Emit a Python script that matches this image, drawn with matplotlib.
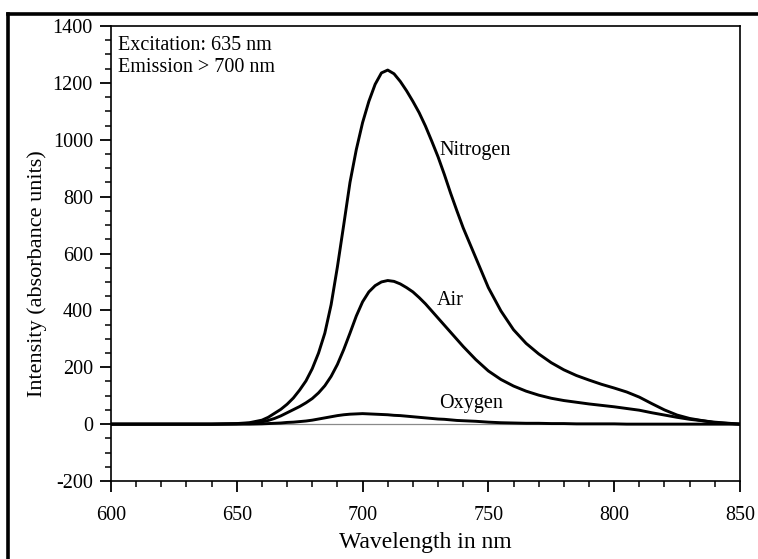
import matplotlib
matplotlib.use("Agg")
import matplotlib.pyplot as plt
from matplotlib.lines import Line2D
from matplotlib.ticker import MultipleLocator

# Wavelength grid (nm) and intensities
wavelength = [600, 620, 640, 650, 655,
              660, 662.5, 665, 667.5, 670, 672.5, 675, 677.5,
              680, 682.5, 685, 687.5, 690, 692.5, 695, 697.5,
              700, 702.5, 705, 707.5, 710, 712.5, 715, 717.5,
              720, 722.5, 725, 727.5, 730, 732.5, 735, 737.5,
              740, 745, 750, 755, 760, 765, 770, 775, 780, 785,
              790, 795, 800, 805, 810, 815, 820, 825, 830, 840, 850]

nitrogen = [0, 0, 0, 2, 5,
            14, 24, 38, 52, 70, 92, 120, 152,
            195, 250, 320, 420, 553, 700, 850, 965,
            1060, 1135, 1195, 1235, 1245, 1232, 1205, 1172,
            1135, 1095, 1048, 995, 940, 878, 812, 750,
            690, 585, 480, 398, 332, 284, 247, 216, 191, 171,
            155, 140, 127, 113, 95, 72, 50, 32, 20, 5, 0]

air = [0, 0, 0, 1, 3,
       8, 13, 20, 29, 40, 51, 62, 75,
       90, 110, 135, 168, 210, 262, 320, 380,
       430, 465, 487, 500, 505, 502, 493, 480,
       465, 445, 423, 398, 373, 348, 323, 298,
       273, 227, 187, 157, 134, 116, 102, 91, 83, 77,
       71, 66, 61, 55, 49, 40, 32, 24, 17, 7, 0]

oxygen = [0, 0, 0, 0, 0,
          1, 2, 3, 4, 6, 7, 9, 11,
          14, 18, 22, 26, 30, 33, 35, 36,
          37, 36, 35, 34, 33, 31, 30, 28,
          26, 24, 22, 20, 18, 17, 15, 13,
          12, 10, 7, 5, 4, 3, 3, 2, 2, 1,
          1, 1, 1, 0, 0, 0, 0, 0, 0, 0, 0]

series = [("Nitrogen", nitrogen, (730.5, 946)),
          ("Air", air, (729.5, 419)),
          ("Oxygen", oxygen, (730.5, 55))]

plt.rcParams['font.family'] = ['Liberation Serif', 'DejaVu Serif']
plt.rcParams['axes.unicode_minus'] = False

fig = plt.figure(figsize=(7.58, 5.59), dpi=100)
ax = fig.add_axes([0.1464, 0.1395, 0.8298, 0.814])

# faint zero line under the curves
ax.axhline(0, color='#8a8a8a', linewidth=0.9, zorder=1)

for name, values, (tx, ty) in series:
    ax.plot(wavelength, values, color='black', linewidth=2.1, zorder=2,
            solid_joinstyle='round')
    ax.text(tx, ty, name, fontsize=14.5, ha='left', va='baseline')

ax.text(0.011, 0.947, "Excitation: 635 nm", transform=ax.transAxes,
        fontsize=14.5, ha='left', va='baseline')
ax.text(0.011, 0.8996, "Emission > 700 nm", transform=ax.transAxes,
        fontsize=14.5, ha='left', va='baseline')

ax.set_xlim(600, 850)
ax.set_ylim(-200, 1400)
ax.xaxis.set_major_locator(MultipleLocator(50))
ax.xaxis.set_minor_locator(MultipleLocator(10))
ax.yaxis.set_major_locator(MultipleLocator(200))
ax.yaxis.set_minor_locator(MultipleLocator(50))

ax.tick_params(axis='both', which='major', direction='out', length=8,
               width=1.3, labelsize=14.5)
ax.tick_params(axis='both', which='minor', direction='out', length=4,
               width=1.1)
ax.tick_params(axis='x', which='major', pad=10)
ax.tick_params(axis='y', which='major', pad=5)

for sp in ax.spines.values():
    sp.set_linewidth(1.2)

ax.set_xlabel("Wavelength in nm", fontsize=17)
ax.xaxis.set_label_coords(0.5, -0.112)
ax.set_ylabel("Intensity (absorbance units)", fontsize=16)
ax.yaxis.set_label_coords(-0.117, 0.455)
ax.yaxis.label.set_va('center')

# heavy frame lines along the left and top edges of the scan
fig.add_artist(Line2D([0.0106, 0.0106], [0.0, 0.975], transform=fig.transFigure,
                      color='black', linewidth=2.6))
fig.add_artist(Line2D([0.0106, 1.0], [0.975, 0.975], transform=fig.transFigure,
                      color='black', linewidth=2.6))

fig.savefig("out.png", dpi=100)
